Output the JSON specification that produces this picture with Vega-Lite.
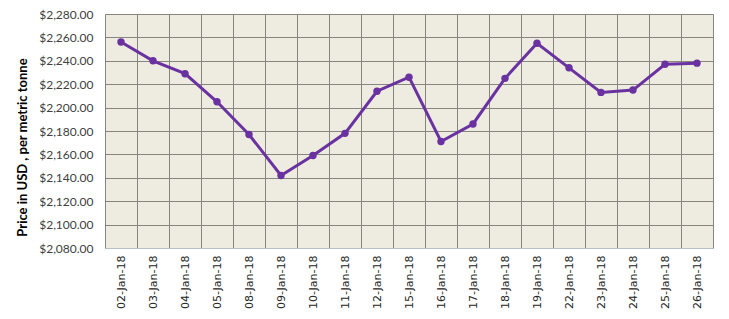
{
  "$schema": "https://vega.github.io/schema/vega-lite/v6.json",
  "autosize": "none",
  "width": 608,
  "height": 234,
  "padding": {"left": 105, "top": 14, "right": 16, "bottom": 71},
  "background": "white",
  "config": {
    "view": {"fill": "#EEECE1", "stroke": null},
    "axis": {"gridColor": "#86867E", "gridOpacity": 1, "gridWidth": 1}
  },
  "data": {
    "values": [
      {"date": "02-Jan-18", "price": 2256},
      {"date": "03-Jan-18", "price": 2240},
      {"date": "04-Jan-18", "price": 2229},
      {"date": "05-Jan-18", "price": 2205},
      {"date": "08-Jan-18", "price": 2177},
      {"date": "09-Jan-18", "price": 2142},
      {"date": "10-Jan-18", "price": 2159},
      {"date": "11-Jan-18", "price": 2178},
      {"date": "12-Jan-18", "price": 2214},
      {"date": "15-Jan-18", "price": 2226},
      {"date": "16-Jan-18", "price": 2171},
      {"date": "17-Jan-18", "price": 2186},
      {"date": "18-Jan-18", "price": 2225},
      {"date": "19-Jan-18", "price": 2255},
      {"date": "22-Jan-18", "price": 2234},
      {"date": "23-Jan-18", "price": 2213},
      {"date": "24-Jan-18", "price": 2215},
      {"date": "25-Jan-18", "price": 2237},
      {"date": "26-Jan-18", "price": 2238}
    ]
  },
  "mark": {"type": "line", "color": "#6A32A0", "strokeWidth": 3, "point": {"filled": true, "size": 55, "color": "#6A32A0"}},
  "encoding": {
    "x": {
      "field": "date",
      "type": "ordinal",
      "sort": null,
      "bandPosition": 0.5,
      "scale": {"type": "band", "paddingInner": 0, "paddingOuter": 0},
      "axis": {
        "title": null,
        "labelAngle": -90,
        "labelAlign": "right",
        "labelBaseline": "middle",
        "labelFont": "DejaVu Sans",
        "labelFontSize": 11,
        "labelColor": "#262626",
        "labelPadding": 7,
        "ticks": false,
        "grid": true,
        "tickBand": "extent",
        "domainColor": "#B8C0CA",
        "domainWidth": 1
      }
    },
    "y": {
      "field": "price",
      "type": "quantitative",
      "scale": {"domain": [2080, 2280], "nice": false, "zero": false},
      "axis": {
        "title": "Price in USD , per metric tonne",
        "titleFont": "Lato",
        "titleFontSize": 13,
        "titleFontWeight": "bold",
        "titleColor": "#000000",
        "titleX": -83,
        "titleY": 133,
        "titleAngle": -90,
        "titleAlign": "center",
        "titleBaseline": "middle",
        "values": [2080, 2100, 2120, 2140, 2160, 2180, 2200, 2220, 2240, 2260, 2280],
        "format": "$,.2f",
        "labelFont": "Lato",
        "labelFontSize": 12,
        "labelColor": "#404040",
        "labelPadding": 12,
        "ticks": false,
        "domain": false,
        "grid": true
      }
    }
  }
}
